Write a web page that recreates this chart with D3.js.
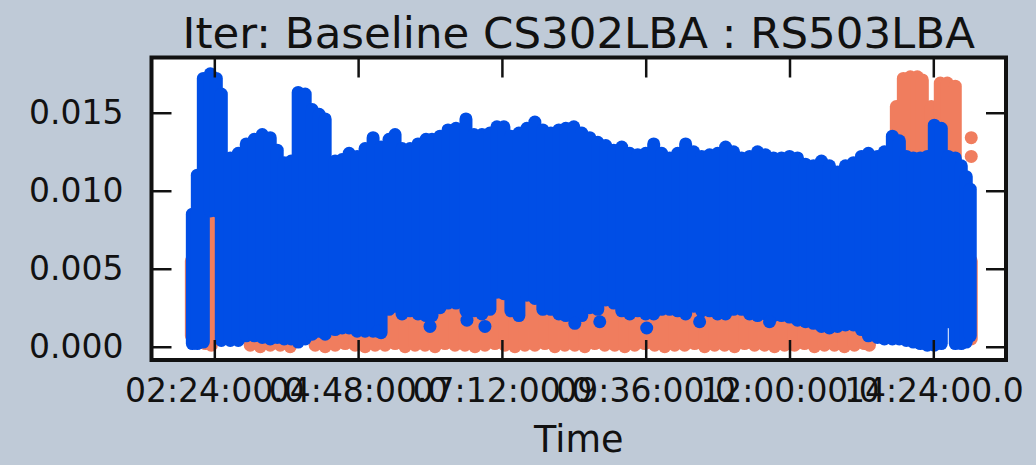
<!DOCTYPE html>
<html>
<head>
<meta charset="utf-8">
<script src="https://cdn.jsdelivr.net/npm/d3@7"></script>
<style>
  html, body { margin: 0; padding: 0; background: #bfcad7; }
  svg { display: block; font-family: "DejaVu Sans", sans-serif; }
</style>
</head>
<body>
<svg id="chart" width="1036" height="465"></svg>
<script>
// ---- axis data ----
const titleText = "Iter: Baseline CS302LBA : RS503LBA";
const xLabelText = "Time";
const timeExtent = ["01:21:06", "15:36:48"];
const valueExtent = [-0.00085, 0.01854];
const xTickTimes = ["02:24", "04:48", "07:12", "09:36", "12:00", "14:24"];
const xTickLabels = ["02:24:00.0", "04:48:00.0", "07:12:00.0", "09:36:00.0", "12:00:00.0", "14:24:00.0"];
const yTickValues = [0.000, 0.005, 0.010, 0.015];
const yTickLabels = ["0.000", "0.005", "0.010", "0.015"];

// ---- orange series: per time slot, lowest and highest marker value ----
const xxTime = [
  "02:01", "02:15", "02:21",
  "03:00", "03:10", "03:20", "03:30", "03:40",
  "04:05", "04:15", "04:25", "04:35", "04:45", "04:55", "05:05", "05:15", "05:25", "05:35",
  "05:45", "05:55", "06:05", "06:15", "06:25", "06:35", "06:45", "06:55", "07:05", "07:15",
  "07:25", "07:35", "07:45", "07:55", "08:05", "08:15", "08:25", "08:35", "08:45", "08:55",
  "09:05", "09:15", "09:25", "09:35", "09:45", "09:55", "10:05", "10:15", "10:25", "10:35",
  "10:45", "10:55", "11:05", "11:15", "11:25", "11:35", "11:45", "11:55", "12:05", "12:15",
  "12:25", "12:35", "12:45", "12:55", "13:05", "13:15", "13:20",
  "13:47", "13:54", "14:01", "14:08", "14:13", "14:22", "14:31", "14:38", "14:46",
  "15:02"
];
const xxLow = [
  0.0007, 0.0002, 0.0001,
  0.0001, 0.0000, 0.0001, 0.0001, 0.0000,
  0.0001, 0.0000, 0.0001, 0.0002, 0.0001, 0.0000, 0.0001, 0.0001, 0.0002, 0.0000,
  0.0001, 0.0001, 0.0000, 0.0002, 0.0001, 0.0001, 0.0000, 0.0001, 0.0002, 0.0001,
  0.0000, 0.0001, 0.0001, 0.0002, 0.0000, 0.0001, 0.0001, 0.0000, 0.0002, 0.0001,
  0.0001, 0.0000, 0.0001, 0.0002, 0.0001, 0.0000, 0.0001, 0.0001, 0.0002, 0.0000,
  0.0001, 0.0001, 0.0000, 0.0002, 0.0001, 0.0001, 0.0000, 0.0001, 0.0001, 0.0002,
  0.0000, 0.0001, 0.0001, 0.0000, 0.0001, 0.0002, 0.0001,
  0.0060, 0.0060, 0.0060, 0.0060, 0.0060, 0.0060, 0.0060, 0.0060, 0.0060,
  0.0005
];
const xxHigh = [
  0.0055, 0.0007, 0.0082,
  0.0045, 0.0045, 0.0045, 0.0045, 0.0045,
  0.0050, 0.0050, 0.0050, 0.0050, 0.0050, 0.0050, 0.0050, 0.0050, 0.0050, 0.0050,
  0.0050, 0.0050, 0.0050, 0.0050, 0.0050, 0.0050, 0.0050, 0.0050, 0.0050, 0.0050,
  0.0050, 0.0050, 0.0050, 0.0050, 0.0050, 0.0050, 0.0050, 0.0050, 0.0050, 0.0050,
  0.0050, 0.0050, 0.0050, 0.0050, 0.0050, 0.0050, 0.0050, 0.0050, 0.0050, 0.0050,
  0.0050, 0.0050, 0.0050, 0.0050, 0.0050, 0.0050, 0.0050, 0.0050, 0.0050, 0.0050,
  0.0050, 0.0050, 0.0050, 0.0050, 0.0050, 0.0050, 0.0050,
  0.0154, 0.0172, 0.0173, 0.0173, 0.0171, 0.0154, 0.0169, 0.0169, 0.0167,
  0.0055
];
// isolated orange markers
const xxDotTime = ["15:02", "15:02"];
const xxDotValue = [0.0134, 0.0122];

// ---- blue series: per time slot, lowest and highest marker value ----
const yyTime = [
  "02:02", "02:07", "02:13", "02:20", "02:26", "02:31", "02:40", "02:48", "02:56", "03:04",
  "03:12", "03:20", "03:27", "03:34", "03:41", "03:48", "03:55", "04:02", "04:09", "04:15",
  "04:25", "04:32", "04:39", "04:47", "04:55", "05:03", "05:11", "05:19", "05:25", "05:32",
  "05:40", "05:48", "05:56", "06:02", "06:10", "06:18", "06:26", "06:36", "06:44", "06:52",
  "07:00", "07:07", "07:14", "07:21", "07:29", "07:37", "07:45", "07:53", "08:01", "08:09",
  "08:16", "08:24", "08:32", "08:40", "08:48", "08:56", "09:04", "09:12", "09:20", "09:28",
  "09:36", "09:44", "09:52", "10:00", "10:08", "10:16", "10:24", "10:32", "10:40", "10:48",
  "10:56", "11:04", "11:12", "11:20", "11:28", "11:36", "11:44", "11:52", "12:00", "12:08",
  "12:16", "12:24", "12:32", "12:40", "12:48", "12:56", "13:04", "13:12", "13:19", "13:28",
  "13:35", "13:43", "13:50", "13:57", "14:04", "14:11", "14:18", "14:25", "14:32", "14:39",
  "14:46", "14:52", "14:57", "15:01"
];
const yyLow = [
  0.0002, 0.0002, 0.0003, 0.0087, 0.0087, 0.0004, 0.0004, 0.0004, 0.0007, 0.0007,
  0.0006, 0.0005, 0.0006, 0.0005, 0.0005, 0.0003, 0.0005, 0.0008, 0.0010, 0.0008,
  0.0011, 0.0012, 0.0012, 0.0010, 0.0010, 0.0010, 0.0009, 0.0024, 0.0026, 0.0021,
  0.0023, 0.0021, 0.0020, 0.0020, 0.0025, 0.0028, 0.0028, 0.0023, 0.0023, 0.0021,
  0.0024, 0.0035, 0.0034, 0.0023, 0.0020, 0.0033, 0.0031, 0.0024, 0.0024, 0.0021,
  0.0020, 0.0021, 0.0020, 0.0025, 0.0024, 0.0030, 0.0028, 0.0023, 0.0021, 0.0023,
  0.0021, 0.0021, 0.0024, 0.0024, 0.0023, 0.0021, 0.0026, 0.0023, 0.0023, 0.0021,
  0.0021, 0.0024, 0.0024, 0.0021, 0.0020, 0.0021, 0.0020, 0.0020, 0.0019, 0.0017,
  0.0016, 0.0015, 0.0013, 0.0012, 0.0013, 0.0014, 0.0014, 0.0011, 0.0007, 0.0006,
  0.0005, 0.0005, 0.0005, 0.0004, 0.0003, 0.0002, 0.0001, 0.0001, 0.0002, 0.0016,
  0.0002, 0.0002, 0.0003, 0.0007
];
const yyHigh = [
  0.0085, 0.0110, 0.0172, 0.0175, 0.0172, 0.0162, 0.0121, 0.0124, 0.0130, 0.0133,
  0.0136, 0.0134, 0.0126, 0.0118, 0.0119, 0.0163, 0.0162, 0.0152, 0.0149, 0.0146,
  0.0119, 0.0120, 0.0124, 0.0122, 0.0127, 0.0134, 0.0128, 0.0133, 0.0136, 0.0127,
  0.0127, 0.0130, 0.0133, 0.0133, 0.0135, 0.0139, 0.0140, 0.0146, 0.0136, 0.0136,
  0.0137, 0.0141, 0.0141, 0.0135, 0.0137, 0.0140, 0.0144, 0.0139, 0.0137, 0.0139,
  0.0140, 0.0141, 0.0137, 0.0134, 0.0131, 0.0129, 0.0126, 0.0128, 0.0124, 0.0123,
  0.0124, 0.0130, 0.0124, 0.0121, 0.0124, 0.0130, 0.0125, 0.0122, 0.0123, 0.0124,
  0.0128, 0.0125, 0.0121, 0.0122, 0.0125, 0.0123, 0.0121, 0.0121, 0.0122, 0.0121,
  0.0117, 0.0116, 0.0119, 0.0116, 0.0112, 0.0116, 0.0118, 0.0122, 0.0124, 0.0122,
  0.0125, 0.0135, 0.0132, 0.0122, 0.0121, 0.0121, 0.0122, 0.0142, 0.0140, 0.0122,
  0.0121, 0.0116, 0.0109, 0.0101
];
// isolated blue markers below the dense cloud
const yyDotTime = ["05:08", "06:00", "06:37", "06:55", "08:25", "08:50", "09:37", "10:30", "11:40"];
const yyDotValue = [0.0010, 0.0013, 0.0017, 0.0013, 0.0015, 0.0016, 0.0012, 0.0016, 0.0016];

// ---- layout ----
const svg = d3.select("#chart");
const plot = { left: 151.5, right: 1006, top: 57.5, bottom: 360 };
const markerR = 6.5;
const colors = { xx: "#f07d5e", yy: "#004ee6", bg: "#bfcad7", ink: "#111111" };

const parseHM = d3.timeParse("%H:%M");
const parseHMS = d3.timeParse("%H:%M:%S");

const x = d3.scaleTime()
  .domain(timeExtent.map(parseHMS))
  .range([plot.left, plot.right]);
const y = d3.scaleLinear()
  .domain(valueExtent)
  .range([plot.bottom, plot.top]);

svg.append("rect").attr("width", 1036).attr("height", 465).attr("fill", colors.bg);

svg.append("defs").append("clipPath").attr("id", "plot-clip")
  .append("rect")
  .attr("x", plot.left).attr("y", plot.top)
  .attr("width", plot.right - plot.left).attr("height", plot.bottom - plot.top);

svg.append("rect")
  .attr("x", plot.left).attr("y", plot.top)
  .attr("width", plot.right - plot.left).attr("height", plot.bottom - plot.top)
  .attr("fill", "#ffffff");

const marks = svg.append("g").attr("clip-path", "url(#plot-clip)");

// A run of overlapping round markers at one time slot, from low to high
function drawRuns(times, lows, highs, color) {
  const rows = times.map((t, i) => ({ t: parseHM(t), lo: lows[i], hi: highs[i] }));
  marks.append("g").selectAll("rect").data(rows).join("rect")
    .attr("x", d => x(d.t) - markerR)
    .attr("width", 2 * markerR)
    .attr("y", d => y(d.hi) - markerR)
    .attr("height", d => y(d.lo) - y(d.hi) + 2 * markerR)
    .attr("rx", markerR).attr("ry", markerR)
    .attr("fill", color);
}

// Single round markers
function drawDots(times, values, color) {
  marks.append("g").selectAll("circle")
    .data(times.map((t, i) => ({ t: parseHM(t), v: values[i] })))
    .join("circle")
    .attr("cx", d => x(d.t)).attr("cy", d => y(d.v)).attr("r", markerR)
    .attr("fill", color);
}

drawRuns(xxTime, xxLow, xxHigh, colors.xx);
drawDots(xxDotTime, xxDotValue, colors.xx);
drawRuns(yyTime, yyLow, yyHigh, colors.yy);
drawDots(yyDotTime, yyDotValue, colors.yy);

// ---- axes (inward ticks on all four sides) ----
const tickLen = 20;
const xTicks = xTickTimes.map(parseHM);

const axisFont = g => g.selectAll("text")
  .attr("font-family", "DejaVu Sans, sans-serif")
  .attr("font-size", 33)
  .attr("fill", colors.ink);
const tickStyle = g => {
  g.select(".domain").remove();
  g.selectAll(".tick line").attr("stroke", colors.ink).attr("stroke-width", 2.5);
};

svg.append("g")
  .attr("transform", `translate(0,${plot.bottom})`)
  .call(d3.axisBottom(x).tickValues(xTicks).tickFormat((d, i) => xTickLabels[i])
    .tickSizeInner(-tickLen).tickSizeOuter(0).tickPadding(19))
  .call(tickStyle).call(axisFont);

svg.append("g")
  .attr("transform", `translate(0,${plot.top})`)
  .call(d3.axisTop(x).tickValues(xTicks).tickFormat("")
    .tickSizeInner(-tickLen).tickSizeOuter(0))
  .call(tickStyle);

svg.append("g")
  .attr("transform", `translate(${plot.left},0)`)
  .call(d3.axisLeft(y).tickValues(yTickValues).tickFormat((d, i) => yTickLabels[i])
    .tickSizeInner(-tickLen).tickSizeOuter(0).tickPadding(28))
  .call(tickStyle).call(axisFont);

svg.append("g")
  .attr("transform", `translate(${plot.right},0)`)
  .call(d3.axisRight(y).tickValues(yTickValues).tickFormat("")
    .tickSizeInner(-tickLen).tickSizeOuter(0))
  .call(tickStyle);

// frame
svg.append("rect")
  .attr("x", plot.left).attr("y", plot.top)
  .attr("width", plot.right - plot.left).attr("height", plot.bottom - plot.top)
  .attr("fill", "none").attr("stroke", colors.ink).attr("stroke-width", 4);

// title and axis label
const midX = (plot.left + plot.right) / 2;
svg.append("text")
  .attr("x", midX).attr("y", 48)
  .attr("text-anchor", "middle")
  .attr("font-size", 43.5).attr("fill", colors.ink)
  .text(titleText);

svg.append("text")
  .attr("x", midX).attr("y", 452)
  .attr("text-anchor", "middle")
  .attr("font-size", 36.5).attr("fill", colors.ink)
  .text(xLabelText);
</script>
</body>
</html>
